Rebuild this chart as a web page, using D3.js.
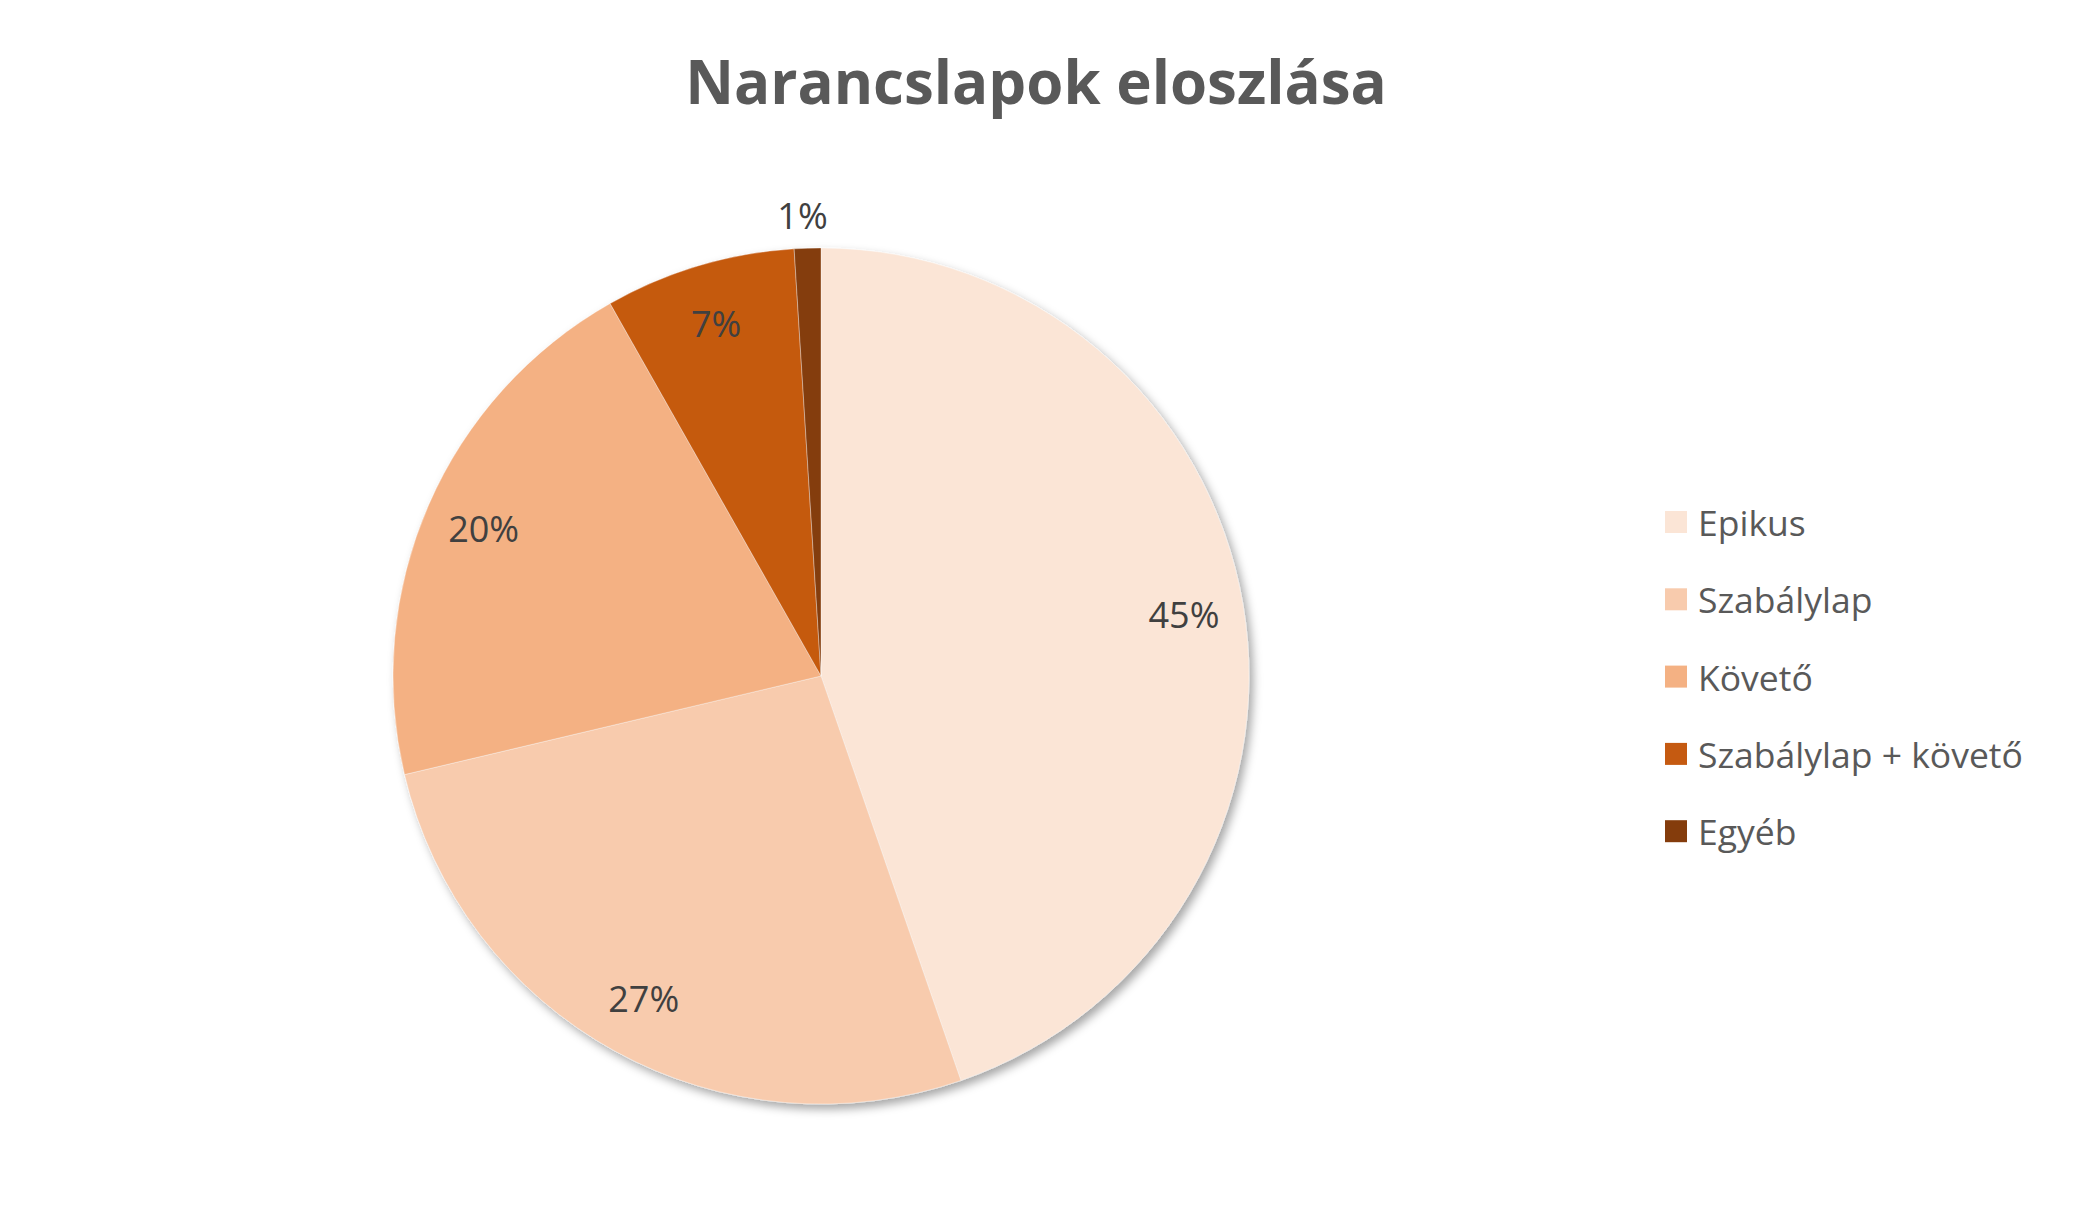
<!DOCTYPE html>
<html><head><meta charset="utf-8">
<script src="https://cdn.jsdelivr.net/npm/d3@7"></script>
<style>body{margin:0;background:#fff}svg{display:block}</style>
</head><body>
<script>
const categories = ["Epikus","Szabálylap","Követő","Szabálylap + követő","Egyéb"];
const values = [44.7, 26.6, 20.5, 7.2, 1.0];
const percentLabels = ["45%","27%","20%","7%","1%"];
const colors = ["#FBE5D6","#F8CBAD","#F4B183","#C55A11","#843C0C"];
const title = "Narancslapok eloszlása";

const W = 2073, H = 1222;
const svg = d3.select("body").append("svg").attr("width", W).attr("height", H);
const defs = svg.append("defs");
const f = defs.append("filter").attr("id","sh").attr("x","-20%").attr("y","-20%").attr("width","140%").attr("height","140%");
f.append("feDropShadow").attr("dx",4).attr("dy",5).attr("stdDeviation",5).attr("flood-color","#000").attr("flood-opacity",0.35);

svg.append("text").attr("x", 1036).attr("y", 104).attr("text-anchor","middle")
  .attr("font-family","'Open Sans', sans-serif").attr("font-weight","bold").attr("font-size", 60)
  .attr("fill","#595959").text(title);

const cx = 821, cy = 676, R = 428;
const data = categories.map((c,i)=>({cat:c, value:values[i], label:percentLabels[i], color:colors[i]}));
const pie = d3.pie().value(d=>d.value).sort(null);
const arcs = pie(data);
const arc = d3.arc().innerRadius(0).outerRadius(R);
const g = svg.append("g").attr("transform",`translate(${cx},${cy})`);
const gs = g.append("g").attr("filter","url(#sh)");
gs.selectAll("path").data(arcs).join("path").attr("d",arc).attr("fill",d=>d.data.color)
  .attr("stroke","#ffffff").attr("stroke-opacity",0.35).attr("stroke-width",1);

const inArc = d3.arc().innerRadius(R*0.86).outerRadius(R*0.86);
g.selectAll("text.lbl").data(arcs).join("text").attr("class","lbl")
  .attr("transform", d=>{
    if ((d.endAngle-d.startAngle) < 0.15) {
      const a = (d.startAngle+d.endAngle)/2;
      return `translate(${Math.sin(a)*(R+33) - 4},${-Math.cos(a)*(R+33)})`;
    }
    const c = inArc.centroid(d); return `translate(${c[0]},${c[1]})`;
  })
  .attr("text-anchor","middle").attr("dominant-baseline","central")
  .attr("font-family","'Open Sans', sans-serif").attr("font-size",36).attr("fill","#404040")
  .text(d=>d.data.label);

const leg = svg.append("g").attr("transform","translate(1665,511)");
const rows = leg.selectAll("g").data(data).join("g").attr("transform",(d,i)=>`translate(0,${i*77.3})`);
rows.append("rect").attr("width",22).attr("height",22).attr("fill",d=>d.color);
rows.append("text").attr("x",33).attr("y",11).attr("dominant-baseline","central")
  .attr("font-family","'Open Sans', sans-serif").attr("font-size",35.5).attr("fill","#595959").text(d=>d.cat);
</script>
</body></html>
